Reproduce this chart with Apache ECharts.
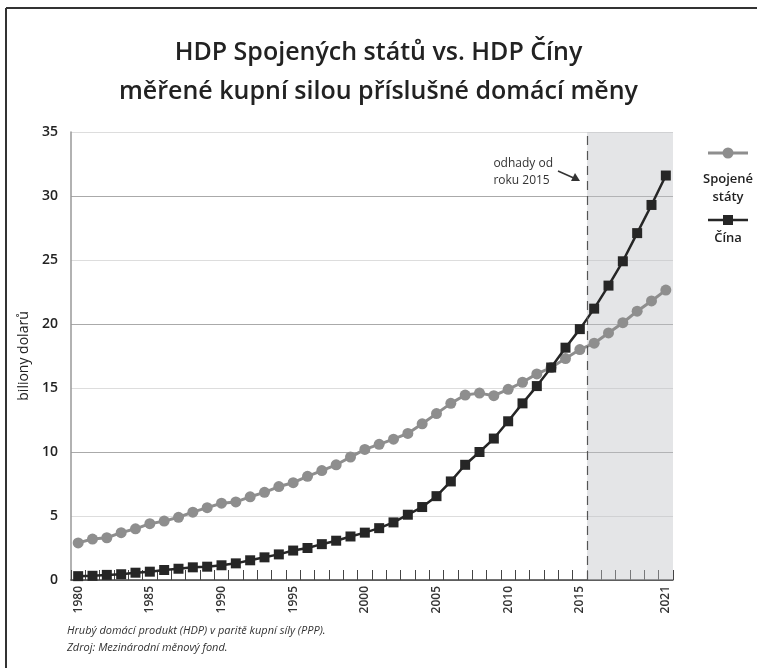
<!DOCTYPE html>
<html>
<head>
<meta charset="utf-8">
<script src="https://cdn.jsdelivr.net/npm/echarts@6/dist/echarts.min.js"></script>
<style>
  html, body { margin: 0; padding: 0; background: #fff; }
  #chart { width: 757px; height: 668px; }
</style>
</head>
<body>
<div id="chart"></div>
<script>
var years = [];
for (var y = 1980; y <= 2021; y++) years.push(String(y));

// HDP (PPP), biliony dolarů
var usa = [2.9, 3.2, 3.3, 3.7, 4.0, 4.4, 4.6, 4.9, 5.3, 5.65,
           6.0, 6.1, 6.5, 6.85, 7.3, 7.6, 8.1, 8.55, 9.0, 9.6,
           10.2, 10.6, 11.0, 11.45, 12.2, 13.0, 13.8, 14.45, 14.6, 14.4,
           14.9, 15.45, 16.1, 16.6, 17.3, 18.0, 18.5, 19.3, 20.1, 21.0,
           21.8, 22.65];
var china = [0.3, 0.33, 0.4, 0.45, 0.57, 0.65, 0.78, 0.88, 0.99, 1.04,
             1.15, 1.3, 1.54, 1.77, 2.0, 2.3, 2.5, 2.8, 3.07, 3.4,
             3.7, 4.05, 4.5, 5.1, 5.7, 6.55, 7.7, 9.0, 10.0, 11.05,
             12.4, 13.8, 15.15, 16.6, 18.15, 19.6, 21.2, 23.0, 24.9, 27.1,
             29.3, 31.6];
var labelYears = ['1980', '1985', '1990', '1995', '2000', '2005', '2010', '2015', '2021'];
var estimateFrom = 2015.5;
var estimateTo = 2021.5;

var font = '"Open Sans", "Noto Sans", sans-serif';

var chart = echarts.init(document.getElementById('chart'));

var option = {
  backgroundColor: '#fff',
  animation: false,
  textStyle: { fontFamily: font },
  title: {
    text: 'HDP Spojených států vs. HDP Číny\nměřené kupní silou příslušné domácí měny',
    left: 'center',
    top: 28,
    textStyle: {
      fontFamily: font,
      fontSize: 25,
      fontWeight: 600,
      color: '#222',
      lineHeight: 39
    }
  },
  grid: { left: 71, right: 84, top: 132, bottom: 88 },
  xAxis: [{
    type: 'category',
    data: years,
    boundaryGap: true,
    axisLine: { show: true, lineStyle: { color: '#444', width: 1.5 } },
    axisTick: { show: true, inside: true, length: 10, interval: 0, lineStyle: { color: '#444', width: 1 } },
    axisLabel: {
      rotate: 90,
      fontSize: 12,
      fontWeight: 600,
      color: '#333',
      margin: 6,
      interval: function (i, v) { return labelYears.indexOf(v) >= 0; }
    },
    splitLine: { show: false }
  }, {
    type: 'value',
    min: 1979.5,
    max: 2021.5,
    show: false
  }],
  yAxis: {
    type: 'value',
    min: 0,
    max: 35,
    interval: 5,
    name: 'biliony dolarů',
    nameLocation: 'middle',
    nameGap: 36,
    nameTextStyle: { fontSize: 14, fontWeight: 500, color: '#222', fontFamily: font },
    axisLine: { show: true, lineStyle: { color: '#999', width: 1.5 } },
    axisTick: { show: false },
    axisLabel: { fontSize: 14, fontWeight: 600, color: '#222', margin: 13 },
    splitLine: { lineStyle: { color: ['#aaa', '#ddd'], width: 1 } }
  },
  series: [{
    type: 'line',
    name: 'odhady',
    xAxisIndex: 1,
    data: [],
    silent: true,
    markArea: {
      silent: true,
      itemStyle: { color: 'rgba(190,192,197,0.42)' },
      data: [[{ xAxis: estimateFrom }, { xAxis: estimateTo }]]
    },
    markLine: {
      silent: true,
      symbol: 'none',
      label: { show: false },
      lineStyle: { color: '#555', type: [9, 6], width: 1.2 },
      data: [{ xAxis: estimateFrom }]
    }
  }, {
    type: 'line',
    name: 'Spojené státy',
    data: usa,
    symbol: 'circle',
    symbolSize: 11,
    showSymbol: true,
    showAllSymbol: true,
    lineStyle: { color: '#8e8e8e', width: 3 },
    itemStyle: { color: '#8e8e8e' },
    z: 3
  }, {
    type: 'line',
    name: 'Čína',
    data: china,
    symbol: 'rect',
    symbolSize: 10,
    showSymbol: true,
    showAllSymbol: true,
    lineStyle: { color: '#262626', width: 2.5 },
    itemStyle: { color: '#262626' },
    z: 4
  }],
  graphic: [
    // frame
    { type: 'line', shape: { x1: 6, y1: 8, x2: 757, y2: 8 }, style: { stroke: '#333', lineWidth: 2 } },
    { type: 'line', shape: { x1: 6, y1: 8, x2: 6, y2: 668 }, style: { stroke: '#333', lineWidth: 2 } },
    // annotation
    { type: 'text', right: 757 - 553, top: 155,
      style: { text: 'odhady od\nroku 2015', fontSize: 12, fontFamily: font, fill: '#333', align: 'right', lineHeight: 17 } },
    { type: 'line', shape: { x1: 558, y1: 171, x2: 576, y2: 179 }, style: { stroke: '#333', lineWidth: 1.5 } },
    { type: 'polygon', shape: { points: [[580, 181], [571, 181], [575, 173]] }, style: { fill: '#333' } },
    // legend
    { type: 'line', shape: { x1: 708, y1: 153, x2: 748, y2: 153 }, style: { stroke: '#8e8e8e', lineWidth: 3 } },
    { type: 'circle', shape: { cx: 728, cy: 153, r: 5.5 }, style: { fill: '#8e8e8e' } },
    { type: 'text', x: 728, y: 170,
      style: { text: 'Spojené\nstáty', fontSize: 13, fontWeight: 600, fontFamily: font, fill: '#222', align: 'center', lineHeight: 18 } },
    { type: 'line', shape: { x1: 708, y1: 220, x2: 748, y2: 220 }, style: { stroke: '#262626', lineWidth: 2.5 } },
    { type: 'rect', shape: { x: 723, y: 215, width: 10, height: 10 }, style: { fill: '#262626' } },
    { type: 'text', x: 728, y: 232,
      style: { text: 'Čína', fontSize: 13, fontWeight: 600, fontFamily: font, fill: '#222', align: 'center' } },
    // footnote
    { type: 'text', left: 67, top: 622,
      style: { text: 'Hrubý domácí produkt (HDP) v paritě kupní síly (PPP).\nZdroj: Mezinárodní měnový fond.',
               fontSize: 11, fontStyle: 'italic', fontFamily: font, fill: '#333', lineHeight: 17 } }
  ]
};

chart.setOption(option);
</script>
</body>
</html>
